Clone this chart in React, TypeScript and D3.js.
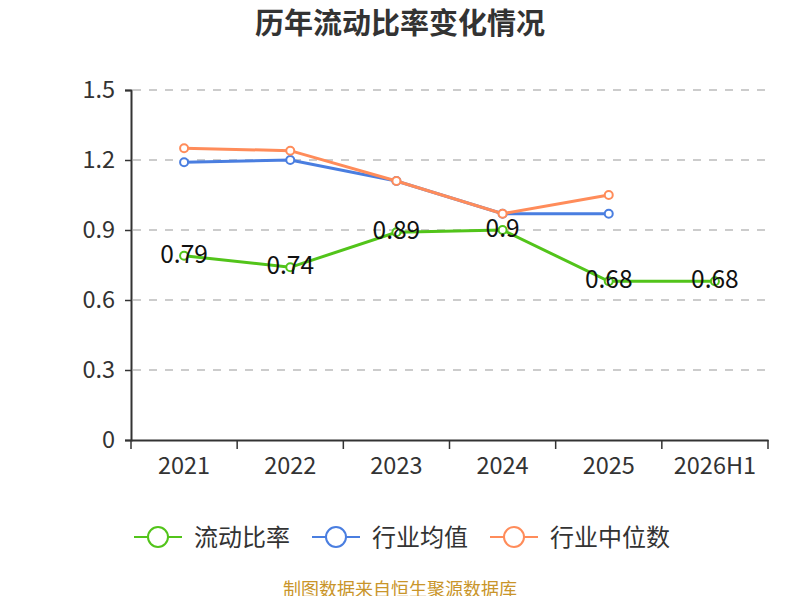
import * as React from 'react';
import * as d3 from 'd3';

const categories = ['2021', '2022', '2023', '2024', '2025', '2026H1'];
const currentRatio = [0.79, 0.74, 0.89, 0.9, 0.68, 0.68];
const industryMean = [1.19, 1.2, 1.11, 0.97, 0.97];
const industryMedian = [1.25, 1.24, 1.11, 0.97, 1.05];
const yTicks = [0, 0.3, 0.6, 0.9, 1.2, 1.5];

const series = [
    { name: '流动比率', color: '#52c41a', values: currentRatio, labels: true },
    { name: '行业均值', color: '#4a7ee0', values: industryMean, labels: false },
    { name: '行业中位数', color: '#ff8c5a', values: industryMedian, labels: false },
];

const font = '"Noto Sans CJK SC", "Noto Sans", sans-serif';

export default function App() {
    const ref = React.useRef<SVGSVGElement>(null);

    React.useEffect(() => {
        const svg = d3.select(ref.current);
        svg.selectAll('*').remove();

        const left = 131, right = 768, top = 90, bottom = 440;

        const x = d3.scaleBand().domain(categories).range([left, right]);
        const y = d3.scaleLinear().domain([0, 1.5]).range([bottom, top]);

        svg.append('text')
            .attr('x', 400).attr('y', 34)
            .attr('text-anchor', 'middle')
            .style('font-family', font)
            .style('font-size', '29px')
            .style('font-weight', 'bold')
            .style('fill', '#333')
            .text('历年流动比率变化情况');

        // grid
        svg.append('g').selectAll('line')
            .data(yTicks.filter(d => d > 0))
            .enter().append('line')
            .attr('x1', left + 2).attr('x2', right)
            .attr('y1', d => y(d)).attr('y2', d => y(d))
            .attr('stroke', '#ccc')
            .attr('stroke-width', 2)
            .attr('stroke-dasharray', '8,8');

        const yAxis = svg.append('g')
            .attr('transform', 'translate(' + left + ',0)')
            .call(d3.axisLeft(y).tickValues(yTicks).tickSize(6).tickPadding(10).tickFormat(d => String(+d)));
        yAxis.select('.domain').attr('stroke', '#333').attr('stroke-width', 2);
        yAxis.selectAll('line').attr('stroke', '#333').attr('stroke-width', 1.5);
        yAxis.selectAll('text').style('font-family', font).style('font-size', '23.5px').style('fill', '#333');

        const xAxis = svg.append('g')
            .attr('transform', 'translate(0,' + bottom + ')')
            .call(d3.axisBottom(x).tickValues([]).tickSizeOuter(0));
        xAxis.select('.domain').attr('stroke', '#333').attr('stroke-width', 2);
        const edges = categories.map(c => x(c)!).concat([right]);
        xAxis.selectAll('.edge').data(edges).enter().append('line')
            .attr('x1', d => d).attr('x2', d => d)
            .attr('y1', 0).attr('y2', 9)
            .attr('stroke', '#333').attr('stroke-width', 1.5);
        xAxis.selectAll('.lbl').data(categories).enter().append('text')
            .attr('x', d => x(d)! + x.bandwidth() / 2)
            .attr('y', 34)
            .attr('text-anchor', 'middle')
            .style('font-family', font).style('font-size', '23.5px').style('fill', '#333')
            .text(d => d);

        const cx = (i: number) => x(categories[i])! + x.bandwidth() / 2;
        const line = d3.line<number>().x((d, i) => cx(i)).y(d => y(d));

        series.forEach(s => {
            const g = svg.append('g');
            g.append('path')
                .datum(s.values)
                .attr('d', line)
                .attr('fill', 'none')
                .attr('stroke', s.color)
                .attr('stroke-width', 3);
            g.selectAll('circle').data(s.values).enter().append('circle')
                .attr('cx', (d, i) => cx(i)).attr('cy', d => y(d))
                .attr('r', 4)
                .attr('fill', '#fff')
                .attr('stroke', s.color)
                .attr('stroke-width', 2);
            if (s.labels) {
                g.selectAll('.val').data(s.values).enter().append('text')
                    .attr('x', (d, i) => cx(i)).attr('y', d => y(d) + 7)
                    .attr('text-anchor', 'middle')
                    .style('font-family', font).style('font-size', '24.5px').style('fill', '#111')
                    .text(d => String(d));
            }
        });

        // legend
        const legendX = [134, 312, 490];
        series.forEach((s, i) => {
            const g = svg.append('g').attr('transform', 'translate(' + legendX[i] + ',537)');
            g.append('line').attr('x1', 0).attr('x2', 48).attr('y1', 0).attr('y2', 0)
                .attr('stroke', s.color).attr('stroke-width', 2);
            g.append('circle').attr('cx', 24).attr('cy', 0).attr('r', 10)
                .attr('fill', '#fff').attr('stroke', s.color).attr('stroke-width', 2);
            g.append('text').attr('x', 60).attr('y', 9)
                .style('font-family', font).style('font-size', '24px').style('fill', '#333')
                .text(s.name);
        });

        svg.append('text')
            .attr('x', 400).attr('y', 596)
            .attr('text-anchor', 'middle')
            .style('font-family', font).style('font-size', '18px').style('fill', '#c9952a')
            .text('制图数据来自恒生聚源数据库');
    }, []);

    return (
        <div style={{ margin: -8 }}>
            <svg ref={ref} width={800} height={600}></svg>
        </div>
    );
}
